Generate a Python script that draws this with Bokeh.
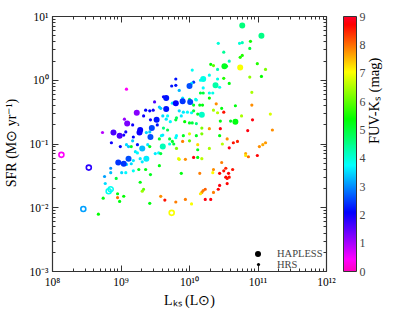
import numpy as np
from bokeh.plotting import figure
from bokeh.models import (ColumnDataSource, LinearColorMapper, ColorBar, FixedTicker,
                          LogAxis, CustomJSTickFormatter, Legend, LegendItem,
                          CDSView, IndexFilter)
from bokeh.embed import file_html
from bokeh.resources import INLINE

# ---------------- data (log10 values) ----------------
# HAPLESS galaxies (filled, large)
hap_log_lks = [10.77, 11.05, 10.51, 10.74, 10.20, 10.38, 10.00, 9.66, 9.80, 9.90,
               10.01, 9.66, 10.18, 10.67, 9.23, 9.09, 8.89, 8.98, 9.28, 9.27,
               9.45, 9.52, 9.31, 9.61, 9.37, 8.96, 9.04, 9.11, 9.43]
hap_log_sfr = [0.86, 0.70, 0.22, 0.20, 0.02, -0.08, -0.09, -0.28, -0.36, -0.33,
               -0.34, -0.45, -0.54, -0.65, -0.51, -0.68, -0.82, -0.87, -0.78, -0.82,
               -0.75, -0.62, -1.07, -1.04, -1.23, -1.29, -1.31, -1.23, -0.89]
hap_fuvks = [4.6, 4.5, 5.2, 7.0, 3.9, 4.3, 2.6, 2.2, 2.1, 2.4,
             2.5, 2.2, 4.1, 5.3, 1.2, 1.3, 1.6, 1.6, 2.1, 2.0,
             2.5, 2.2, 3.3, 4.2, 3.6, 2.4, 2.4, 2.6, 2.6]

# HAPLESS galaxies drawn as open circles
open_log_lks = [8.13, 8.53, 8.45, 9.74, 8.82, 8.85]
open_log_sfr = [-1.17, -1.37, -2.02, -2.08, -1.74, -1.71]
open_fuvks = [0.4, 1.8, 3.1, 7.0, 3.8, 3.8]

# HRS galaxies (small)
hrs_log_lks = [10.42, 10.73, 10.77, 10.89, 10.88, 10.50, 10.74, 10.77, 10.58, 10.99,
               10.31, 10.35, 10.54, 10.41, 11.11, 10.04, 10.29, 10.50, 10.88, 11.05,
               9.80, 10.16, 10.58, 10.41, 10.44, 9.74, 9.80, 10.06, 10.03, 9.85,
               10.20, 10.16, 10.20, 10.29, 10.34, 10.91, 10.29, 9.62, 9.90, 10.09,
               10.00, 9.08, 10.10, 9.75, 9.49, 9.58, 9.85, 9.91, 10.06, 10.15,
               10.19, 10.39, 10.47, 10.35, 10.41, 10.50, 10.67, 10.91, 9.97, 10.03,
               10.06, 10.12, 9.88, 9.80, 9.81, 9.68, 9.61, 9.66, 9.72, 10.00,
               10.04, 9.93, 10.45, 10.60, 10.76, 10.92, 11.18, 10.10, 10.18, 10.29,
               10.45, 10.85, 11.21, 9.62, 9.68, 9.59, 9.71, 9.80, 9.81, 9.91,
               9.75, 9.77, 9.90, 9.71, 10.10, 10.18, 10.00, 10.00, 10.12, 10.44,
               10.48, 10.55, 10.64, 10.70, 10.58, 11.02, 11.07, 11.11, 10.12, 10.29,
               9.81, 10.82, 10.82, 10.86, 10.99, 9.84, 9.85, 9.94, 10.06, 10.12,
               10.18, 10.47, 9.88, 9.56, 9.43, 10.35, 10.34, 10.15, 10.53, 10.50,
               10.63, 10.57, 10.44, 10.53, 10.55, 10.58, 10.55, 10.44, 10.42, 10.35,
               10.18, 10.20, 10.23, 10.16, 10.23, 10.31, 9.94, 10.03, 9.80, 9.64,
               9.58, 9.42, 9.31, 9.33, 9.28, 8.95, 8.95, 9.04, 8.98, 8.74,
               8.67, 8.73, 9.05, 9.36, 9.42, 9.33, 9.47, 9.56, 9.43, 9.53,
               9.17, 9.18, 9.07, 9.04, 8.86, 8.99, 9.17, 9.11, 9.08, 9.15,
               9.24, 9.39, 9.42, 9.37, 9.42, 9.56, 9.61, 9.50, 9.55, 9.58,
               9.21, 9.24, 9.28, 9.31, 9.08, 9.15, 9.18, 9.26, 9.18, 9.36,
               9.01, 9.07, 8.85, 8.76, 8.93, 8.77, 8.85]
hrs_log_sfr = [0.58, 0.58, 0.59, 0.61, 0.50, 0.44, 0.36, 0.39, 0.30, 0.26,
               0.25, 0.23, 0.22, 0.17, 0.17, 0.16, 0.08, 0.03, 0.05, 0.06,
               0.02, 0.00, -0.05, 0.02, -0.11, -0.09, -0.08, -0.03, -0.05, -0.16,
               -0.12, -0.20, -0.20, -0.20, -0.20, -0.19, -0.28, -0.26, -0.28, -0.30,
               -0.30, -0.14, -0.31, -0.36, -0.34, -0.44, -0.48, -0.50, -0.39, -0.39,
               -0.39, -0.37, -0.44, -0.47, -0.51, -0.50, -0.40, -0.39, -0.50, -0.51,
               -0.48, -0.53, -0.56, -0.62, -0.59, -0.56, -0.56, -0.61, -0.65, -0.67,
               -0.67, -0.65, -0.64, -0.64, -0.56, -0.62, -0.53, -0.68, -0.75, -0.76,
               -0.76, -0.79, -0.78, -0.75, -0.78, -0.87, -0.92, -0.90, -0.87, -0.87,
               -0.96, -1.00, -0.96, -1.00, -0.87, -0.84, -0.84, -0.95, -1.01, -0.87,
               -1.00, -0.92, -0.98, -0.96, -1.06, -1.04, -1.01, -0.98, -1.09, -1.07,
               -1.07, -1.15, -1.18, -1.20, -1.18, -1.23, -1.24, -1.24, -1.21, -1.21,
               -1.23, -1.29, -1.46, -1.34, -1.48, -1.40, -1.45, -1.46, -1.38, -1.42,
               -1.40, -1.46, -1.46, -1.52, -1.54, -1.52, -1.62, -1.65, -1.71, -1.76,
               -1.76, -1.73, -1.71, -1.78, -1.87, -1.87, -1.87, -1.94, -1.91, -1.88,
               -1.82, -1.93, -1.74, -1.71, -1.60, -1.78, -1.84, -1.82, -1.90, -1.85,
               -2.10, -0.82, -0.61, -0.47, -0.48, -0.56, -0.47, -0.42, -0.62, -0.70,
               -0.70, -0.89, -0.81, -0.86, -0.98, -1.04, -0.95, -1.04, -1.01, -1.04,
               -1.01, -1.01, -1.04, -0.82, -0.81, -0.92, -0.86, -1.15, -1.14, -1.15,
               -1.12, -1.14, -1.23, -1.28, -1.32, -1.31, -1.26, -1.40, -1.42, -1.40,
               -1.45, -1.45, -1.45, -1.51, -1.54, -1.62, -1.38]
hrs_fuvks = [4.0, 4.0, 4.2, 5.5, 5.0, 4.4, 5.6, 5.6, 4.2, 5.6,
             5.4, 6.0, 5.0, 4.2, 6.2, 3.8, 3.8, 5.6, 6.3, 5.4,
             2.2, 3.8, 5.3, 3.9, 3.9, 2.2, 2.2, 2.4, 3.6, 3.3,
             3.7, 5.0, 5.0, 3.9, 3.9, 6.5, 5.4, 2.0, 3.6, 3.9,
             5.0, 0.4, 3.8, 3.6, 1.6, 3.4, 3.5, 3.6, 5.1, 5.2,
             5.3, 7.8, 5.3, 6.5, 6.6, 8.6, 5.3, 7.8, 3.7, 3.8,
             5.0, 5.2, 3.6, 5.0, 4.8, 3.7, 3.5, 3.6, 3.7, 5.2,
             5.0, 5.4, 5.3, 5.2, 6.5, 8.8, 6.8, 4.6, 6.2, 7.7,
             8.8, 8.8, 7.8, 4.6, 4.9, 3.8, 5.0, 3.8, 3.7, 5.2,
             5.1, 5.0, 7.9, 3.8, 5.2, 6.2, 6.8, 6.0, 7.3, 5.3,
             6.6, 7.8, 8.6, 8.5, 8.9, 7.8, 7.6, 7.7, 5.2, 6.5,
             6.2, 7.6, 7.2, 8.0, 8.7, 7.0, 6.8, 7.8, 8.8, 5.3,
             6.6, 7.9, 5.3, 5.3, 5.2, 7.8, 7.1, 7.9, 8.5, 8.6,
             8.6, 8.7, 8.7, 8.7, 8.6, 8.6, 8.7, 8.8, 8.7, 7.9,
             7.8, 7.9, 8.1, 7.2, 8.8, 8.8, 7.9, 7.0, 7.9, 8.6,
             7.8, 5.3, 6.4, 6.0, 5.3, 5.3, 8.0, 5.4, 5.3, 5.3,
             5.4, 0.9, 1.1, 2.1, 2.1, 2.0, 2.0, 3.4, 2.0, 2.2,
             2.0, 2.1, 2.0, 2.0, 2.0, 2.1, 3.4, 3.4, 3.5, 5.2,
             2.2, 3.6, 5.2, 3.5, 3.4, 5.1, 3.6, 3.6, 3.7, 5.0,
             3.6, 3.7, 3.6, 3.6, 3.5, 3.5, 3.6, 5.2, 3.8, 5.3,
             3.5, 3.7, 3.3, 3.1, 5.0, 3.5, 3.0]

x_ticks = [1e8, 1e9, 1e10, 1e11, 1e12]
y_ticks = [1e-3, 1e-2, 1e-1, 1e0, 1e1]
cbar_ticks = [0, 1, 2, 3, 4, 5, 6, 7, 8, 9]
legend_labels = ["HAPLESS", "HRS"]
x_title = "L\u2096\u209b (L\u2299)"
y_title = "SFR (M\u2299 yr\u207b\u00b9)"
c_title = "FUV-K\u209b (mag)"

# ---------------- colour map (gist_rainbow, reversed) ----------------
_rb = [(0.000, (1.00, 0.00, 0.16)), (0.030, (1.00, 0.00, 0.00)),
       (0.215, (1.00, 1.00, 0.00)), (0.400, (0.00, 1.00, 0.00)),
       (0.586, (0.00, 1.00, 1.00)), (0.770, (0.00, 0.00, 1.00)),
       (0.954, (1.00, 0.00, 1.00)), (1.000, (1.00, 0.00, 0.75))]


def gist_rainbow(t):
    for (t0, c0), (t1, c1) in zip(_rb[:-1], _rb[1:]):
        if t <= t1:
            f = (t - t0) / (t1 - t0)
            return tuple(c0[i] + (c1[i] - c0[i]) * f for i in range(3))
    return _rb[-1][1]


palette = ['#%02x%02x%02x' % tuple(int(round(255 * v)) for v in gist_rainbow(1 - i / 255))
           for i in range(256)]
mapper = LinearColorMapper(palette=palette, low=cbar_ticks[0], high=cbar_ticks[-1])

FONT = "Liberation Serif"

hap = ColumnDataSource(dict(lks=10 ** np.array(hap_log_lks), sfr=10 ** np.array(hap_log_sfr), c=hap_fuvks))
opn = ColumnDataSource(dict(lks=10 ** np.array(open_log_lks), sfr=10 ** np.array(open_log_sfr), c=open_fuvks))
hrs = ColumnDataSource(dict(lks=10 ** np.array(hrs_log_lks), sfr=10 ** np.array(hrs_log_sfr), c=hrs_fuvks))

# ---------------- main plot ----------------
p = figure(width=392, height=310, x_axis_type="log", y_axis_type="log",
           x_range=(x_ticks[0], x_ticks[-1]), y_range=(y_ticks[0], y_ticks[-1]),
           output_backend="svg", toolbar_location=None,
           min_border_left=52, min_border_right=66, min_border_top=16, min_border_bottom=39)
p.grid.visible = False
p.outline_line_color = "#333333"
p.outline_line_width = 1.2

fmt = CustomJSTickFormatter(code="""
const sup = {"-": "\\u207b", "0": "\\u2070", "1": "\\u00b9", "2": "\\u00b2", "3": "\\u00b3",
             "4": "\\u2074", "5": "\\u2075", "6": "\\u2076", "7": "\\u2077", "8": "\\u2078", "9": "\\u2079"};
const e = Math.round(Math.log10(tick));
return "10" + String(e).split("").map(c => sup[c]).join("");
""")
blank = CustomJSTickFormatter(code="return '';")


def minor(majors):
    return [m * k for m in majors[:-1] for k in range(2, 10)]


xtick = FixedTicker(ticks=x_ticks, minor_ticks=minor(x_ticks))
ytick = FixedTicker(ticks=y_ticks, minor_ticks=minor(y_ticks))


def style(ax, labels=True):
    ax.major_tick_in = 6
    ax.major_tick_out = 0
    ax.minor_tick_in = 3
    ax.minor_tick_out = 0
    ax.axis_line_color = None
    ax.major_tick_line_color = "#333333"
    ax.minor_tick_line_color = "#333333"
    ax.axis_label_text_font = FONT
    ax.axis_label_text_font_size = "14px"
    ax.axis_label_text_font_style = "normal"
    ax.axis_label_text_color = "black"
    if labels:
        ax.major_label_text_font = FONT
        ax.major_label_text_font_size = "11.5px"
        ax.major_label_text_color = "black"
        ax.major_label_standoff = 4
    else:
        ax.major_label_text_font_size = "0px"
        ax.major_label_standoff = 0


xa, yax = p.xaxis[0], p.yaxis[0]
xa.ticker, xa.formatter = xtick, fmt
yax.ticker, yax.formatter = ytick, fmt
style(xa)
style(yax)
xa.axis_label = x_title
xa.axis_label_standoff = 2
yax.axis_label = y_title
yax.axis_label_standoff = 8

top = LogAxis(ticker=xtick, formatter=blank)
right = LogAxis(ticker=ytick, formatter=blank)
style(top, False)
style(right, False)
p.add_layout(top, "above")
p.add_layout(right, "right")

# legend renderers: one tiny black point each, drawn first so the coloured
# points cover it; they only supply the black legend glyphs
d_hap = p.scatter("lks", "sfr", source=hap, view=CDSView(filter=IndexFilter(indices=[0])),
                  size=2, fill_color="black", line_color=None)
d_hrs = p.scatter("lks", "sfr", source=hrs, view=CDSView(filter=IndexFilter(indices=[0])),
                  size=1, fill_color="black", line_color=None)

# points
p.scatter("lks", "sfr", source=hrs, size=3.2,
          fill_color={"field": "c", "transform": mapper}, line_color=None)
p.scatter("lks", "sfr", source=hap, size=6,
          fill_color={"field": "c", "transform": mapper}, line_color=None)
p.scatter("lks", "sfr", source=opn, size=5, fill_color=None, line_width=1.6,
          line_color={"field": "c", "transform": mapper})

for lab_text, rend, gsize, loc, stand in [(legend_labels[0], d_hap, 15, (198, 10), 12),
                                          (legend_labels[1], d_hrs, 8, (202, 1.5), 15)]:
    lg = Legend(items=[LegendItem(label=lab_text, renderers=[rend])], location=loc,
                glyph_width=gsize, glyph_height=gsize, label_height=gsize,
                label_standoff=stand, padding=0, margin=0, spacing=0,
                border_line_color=None, background_fill_alpha=0,
                label_text_font=FONT, label_text_font_size="10.5px")
    p.add_layout(lg, "center")

# colour bar
cb = ColorBar(color_mapper=mapper, ticker=FixedTicker(ticks=cbar_ticks), width=13,
              padding=0, margin=0, location=(17, 0),
              bar_line_color="#333333", major_tick_line_color=None,
              major_label_text_font=FONT, major_label_text_font_size="12px",
              label_standoff=3, border_line_color=None, background_fill_alpha=0)
p.add_layout(cb, "right")

# colour-bar title, carried by a tick-less axis placed outside the colour bar
ctitle = LogAxis(ticker=FixedTicker(ticks=[]), formatter=blank, axis_label=c_title)
style(ctitle, False)
ctitle.major_tick_in = 0
ctitle.minor_tick_in = 0
ctitle.axis_label_standoff = 5
ctitle.axis_label_text_font_size = "14.5px"
if "axis_label_orientation" in ctitle.properties():
    ctitle.axis_label_orientation = np.pi / 2
p.add_layout(ctitle, "right")

open("out.html", "w").write(file_html(p, INLINE))
